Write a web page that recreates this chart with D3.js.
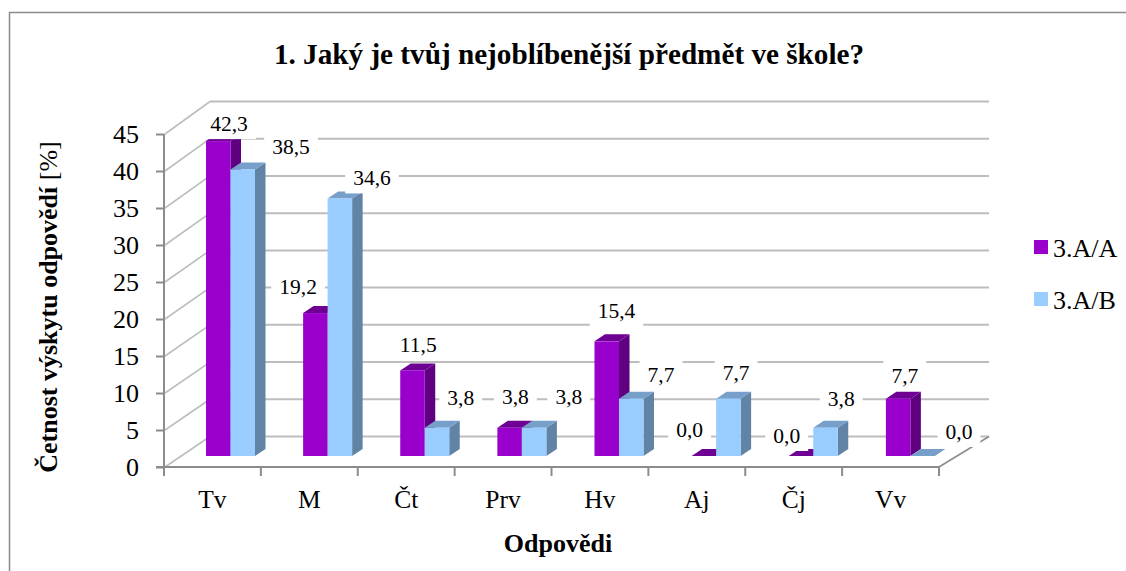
<!DOCTYPE html>
<html><head><meta charset="utf-8">
<script src="https://cdn.jsdelivr.net/npm/d3@7"></script>
<style>html,body{margin:0;padding:0;background:#fff}svg{display:block}text{font-family:"Liberation Serif",serif;fill:#000}</style>
</head><body><div id="c"></div>
<script>
const categories=["Tv","M","Čt","Prv","Hv","Aj","Čj","Vv"];
const seriesA=[42.3,19.2,11.5,3.8,15.4,0,0,7.7];
const seriesB=[38.5,34.6,3.8,3.8,7.7,7.7,3.8,0];
const seriesNames=["3.A/A","3.A/B"];
const yTicks=[0,5,10,15,20,25,30,35,40,45];
const title="1. Jaký je tvůj nejoblíbenější předmět ve škole?";
const yTitle="Četnost výskytu odpovědí ";
const yTitleUnit="[%]";
const xTitle="Odpovědi";
const W=1126,H=571;
const svg=d3.select("#c").append("svg").attr("width",W).attr("height",H);
const fmt=v=>v.toFixed(1).replace(".",",");
const gridC="#bdbdbd",axisC="#8c8c8c";
const colors=[{f:"#9900cc",s:"#5f0080",t:"#6f0094"},{f:"#99ccff",s:"#6083a6",t:"#76a0c9"}];
// frame
svg.append("path").attr("d","M9.5,571V12.5H1126").attr("fill","none").attr("stroke","#8a8a8a").attr("stroke-width",1.5);
// scales
const x=d3.scaleBand().domain(categories).range([164,939]);
const xBar=d3.scaleBand().domain(categories).range([164,941]);
const yFront=d3.scaleLinear().domain([0,45]).range([467,134]);
const yBack=d3.scaleLinear().domain([0,45]).range([436.5,101.5]);
const yBar=d3.scaleLinear().domain([0,45]).range([456,121]);
const wallX=210;
// back wall gridlines
svg.append("g").selectAll("line").data(yTicks).join("line")
 .attr("x1",wallX).attr("x2",989).attr("y1",d=>yBack(d)).attr("y2",d=>yBack(d))
 .attr("stroke",gridC).attr("stroke-width",2);
// side wall diagonals
svg.append("g").selectAll("line").data(yTicks).join("line")
 .attr("x1",165).attr("y1",d=>yFront(d)).attr("x2",wallX).attr("y2",d=>yBack(d))
 .attr("stroke",gridC).attr("stroke-width",1.6);
// floor diagonal
svg.append("line").attr("x1",939).attr("y1",yFront(0)).attr("x2",989).attr("y2",yBack(0)).attr("stroke",axisC).attr("stroke-width",1.6);
// axes
const gy=svg.append("g").attr("transform","translate(164,0)").call(d3.axisLeft(yFront).tickValues(yTicks).tickSize(8).tickPadding(17));
gy.selectAll("path,line").attr("stroke",axisC).attr("stroke-width",2);
gy.select("path").attr("d","M0,134V467");
gy.selectAll("text").attr("font-size",26).attr("font-family","Liberation Serif").attr("fill","#000");
const gx=svg.append("g").attr("transform","translate(0,467)");
gx.append("line").attr("x1",156).attr("x2",939).attr("stroke",axisC).attr("stroke-width",2);
gx.selectAll(".t").data(categories.concat("end")).join("line").attr("class","t")
 .attr("x1",(d,i)=>i<categories.length?x(d):x.range()[1])
 .attr("x2",(d,i)=>i<categories.length?x(d):x.range()[1])
 .attr("y1",0).attr("y2",9).attr("stroke",axisC).attr("stroke-width",2);
gx.selectAll("text").data(categories).join("text").attr("x",d=>x(d)+x.bandwidth()/2).attr("y",41).attr("text-anchor","middle").attr("font-size",25.5).text(d=>d);
// bars
const barW=24.5,barStart=42,dx=10.5,dy=7;
const series=[seriesA,seriesB];
const bars=svg.append("g");
categories.forEach((c,i)=>{
 series.forEach((vals,k)=>{
  const v=vals[i],x0=xBar(c)+barStart+k*barW,x1=x0+barW,y0=yBar(0),y1=yBar(v),col=colors[k];
  const g=bars.append("g");
  g.append("path").attr("d",`M${x1},${y0}L${x1+dx},${y0-dy}L${x1+dx},${y1-dy}L${x1},${y1}Z`).attr("fill",col.s);
  g.append("path").attr("d",`M${x0},${y1}L${x0+dx},${y1-dy}L${x1+dx},${y1-dy}L${x1},${y1}Z`).attr("fill",col.t);
  if(v>0) g.append("rect").attr("x",x0).attr("y",y1).attr("width",barW).attr("height",y0-y1).attr("fill",col.f);
 });
});
// data labels: hand-placed offsets from each bar's left-top corner
const labelDxA=[23,-5,18,18,22,-2,-2,19];
const labelDxB=[60.5,44.4,36,47,42,20,28,48.6];
const labelDyA=[-17,-26,-25,-31,-30,-26,-20,-23];
const labelDyB=[-22,-20,-30,-31,-24,-26,-29,-24];
const labels=svg.append("g");
categories.forEach((c,i)=>{
 series.forEach((vals,k)=>{
  const v=vals[i],lx=xBar(c)+barStart+k*barW+(k?labelDxB:labelDxA)[i],ly=yBar(v)+(k?labelDyB:labelDyA)[i];
  const g=labels.append("g").attr("transform",`translate(${lx},${ly})`);
  const bg=g.append("rect").attr("fill","#fff");
  const t=g.append("text").attr("text-anchor","middle").attr("y",7).attr("font-size",21.5).text(fmt(v));
  const w=t.node().getComputedTextLength()+16;
  bg.attr("x",-w/2).attr("y",-15).attr("width",w).attr("height",30);
 });
});
// titles
svg.append("text").attr("x",569).attr("y",64).attr("text-anchor","middle").attr("font-size",29.2).attr("font-weight","bold").text(title);
svg.append("text").attr("x",558).attr("y",552).attr("text-anchor","middle").attr("font-size",26).attr("font-weight","bold").text(xTitle);
const yt=svg.append("text").attr("transform","translate(57,307) rotate(-90)").attr("text-anchor","middle").attr("font-size",26);
yt.append("tspan").attr("font-weight","bold").text(yTitle);
yt.append("tspan").text(yTitleUnit);
// legend
const leg=svg.append("g").selectAll("g").data(seriesNames).join("g").attr("transform",(d,i)=>`translate(1034,${240+i*52})`);
leg.append("rect").attr("width",14).attr("height",14).attr("fill",(d,i)=>colors[i].f);
leg.append("text").attr("x",19).attr("y",17).attr("font-size",26).text(d=>d);
</script></body></html>
